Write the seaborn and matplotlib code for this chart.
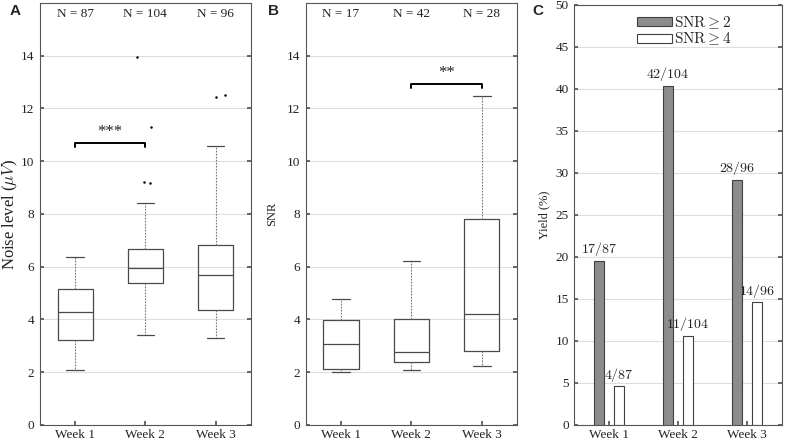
import numpy as np
import pandas as pd
import matplotlib
matplotlib.use("Agg")
import matplotlib.pyplot as plt
import seaborn as sns

# ===============================
# data
# ===============================
weeks = ["Week 1", "Week 2", "Week 3"]

# panel A: noise level (uV) box stats
noise_whislo = [2.07, 3.43, 3.31]
noise_q1 = [3.21, 5.40, 4.35]
noise_med = [4.28, 5.96, 5.68]
noise_q3 = [5.17, 6.69, 6.84]
noise_whishi = [6.36, 8.41, 10.59]
noise_n = [87, 104, 96]
noise_out_week = ["Week 2", "Week 2", "Week 2", "Week 2", "Week 3", "Week 3"]
noise_out_val = [13.97, 11.29, 9.22, 9.16, 12.53, 12.43]

# panel B: SNR box stats
snr_whislo = [2.00, 2.08, 2.24]
snr_q1 = [2.14, 2.39, 2.81]
snr_med = [3.06, 2.78, 4.19]
snr_q3 = [3.97, 4.02, 7.80]
snr_whishi = [4.79, 6.21, 12.46]
snr_n = [17, 42, 28]

# panel C: yield (%)
thresholds = [r"$\mathrm{SNR} \geq 2$", r"$\mathrm{SNR} \geq 4$"]
yield_snr2 = [19.5, 40.4, 29.2]
yield_snr4 = [4.6, 10.6, 14.6]
labels_snr2 = ["17/87", "42/104", "28/96"]
labels_snr4 = ["4/87", "11/104", "14/96"]

# ===============================
# style
# ===============================
sns.set_theme(style="white")
plt.rcParams["font.family"] = ["Liberation Serif", "DejaVu Serif"]
plt.rcParams["mathtext.fontset"] = "cm"
plt.rcParams["axes.edgecolor"] = "#555555"
plt.rcParams["axes.linewidth"] = 0.8

dark = "#4a4a4a"
grid_c = "#dedede"


def style_axes(ax, yticks, ymax):
    ax.set_ylim(0, ymax)
    ax.set_yticks(yticks)
    ax.yaxis.grid(True, color=grid_c, lw=0.8)
    ax.set_axisbelow(True)
    ax.tick_params(axis="y", direction="in", length=3, left=True, right=True,
                   labelsize=9.5, colors="#555555", labelcolor="#222222", pad=4)
    ax.tick_params(axis="x", direction="in", length=3, bottom=True,
                   labelsize=9.5, colors="#555555", labelcolor="#222222", pad=3)
    for s in ax.spines.values():
        s.set_visible(True)
        s.set_color("#555555")


def box_panel(ax, lo, q1, med, q3, hi, n):
    stats = []
    for i in range(len(weeks)):
        stats.append(dict(whislo=lo[i], q1=q1[i], med=med[i], q3=q3[i],
                          whishi=hi[i], fliers=[]))
    ax.bxp(stats, positions=range(len(weeks)), widths=0.5, capwidths=0.25,
           showfliers=False,
           boxprops=dict(color=dark, lw=0.9),
           medianprops=dict(color=dark, lw=0.9),
           whiskerprops=dict(color="#777777", lw=0.8, linestyle=(0, (1.5, 1.2))),
           capprops=dict(color=dark, lw=0.9))
    ax.set_xlim(-0.5, len(weeks) - 0.5)
    ax.set_xticks(range(len(weeks)))
    ax.set_xticklabels(weeks)
    for i, v in enumerate(n):
        ax.text(i, 15.6, f"N = {v}", ha="center", va="center",
                fontsize=9.5, color="#222222")


def bracket(ax, x0, x1, y, stars):
    ax.plot([x0, x0, x1, x1], [y - 0.15, y, y, y - 0.15], color="black", lw=1.4)
    ax.text((x0 + x1) / 2, y + 0.12, stars, ha="center", va="bottom",
            fontsize=12, color="#222222")


fig = plt.figure(figsize=(7.87, 4.42), dpi=100)
axA = fig.add_axes([0.0508, 0.0385, 0.2678, 0.9547])
axB = fig.add_axes([0.3884, 0.0385, 0.2686, 0.9547])
axC = fig.add_axes([0.7297, 0.0385, 0.2636, 0.9502])

# ===============================
# A: noise level
# ===============================
box_panel(axA, noise_whislo, noise_q1, noise_med, noise_q3, noise_whishi, noise_n)
np.random.seed(7)
out_df = pd.DataFrame({"week": noise_out_week, "val": noise_out_val})
sns.stripplot(data=out_df, x="week", y="val", order=weeks, ax=axA,
              color="black", size=1.8, jitter=0.14, linewidth=0)
axA.set_xlim(-0.5, 2.5)
style_axes(axA, np.arange(0, 15, 2), 16)
axA.set_xlabel("")
axA.set_ylabel(r"Noise level ($\mu V$)", fontsize=12, color="#222222", labelpad=1)
bracket(axA, 0, 1, 10.68, "***")

# ===============================
# B: SNR
# ===============================
box_panel(axB, snr_whislo, snr_q1, snr_med, snr_q3, snr_whishi, snr_n)
style_axes(axB, np.arange(0, 15, 2), 16)
axB.set_ylabel("SNR", fontsize=9, color="#222222", labelpad=6)
bracket(axB, 1, 2, 12.94, "**")

# ===============================
# C: yield
# ===============================
yield_df = pd.DataFrame({
    "week": weeks * 2,
    "thr": [thresholds[0]] * 3 + [thresholds[1]] * 3,
    "yield": yield_snr2 + yield_snr4,
})
sns.barplot(data=yield_df, x="week", y="yield", hue="thr", order=weeks,
            hue_order=thresholds, palette=["#8c8c8c", "white"],
            edgecolor="#404040", linewidth=0.8, width=0.57, gap=0.5,
            saturation=1, ax=axC)
axC.bar_label(axC.containers[0], labels=[f"${s}$" for s in labels_snr2],
              padding=2, fontsize=10, color="#222222")
axC.bar_label(axC.containers[1], labels=[f"${s}$" for s in labels_snr4],
              padding=2, fontsize=10, color="#222222")
style_axes(axC, np.arange(0, 51, 5), 50)
axC.set_xlim(-0.5, 2.5)
axC.set_xlabel("")
axC.set_ylabel("Yield (%)", fontsize=9, color="#222222", labelpad=4)
sns.move_legend(axC, "upper center", bbox_to_anchor=(0.53, 1.0), title=None,
                frameon=False, fontsize=11, handlelength=2.3, handleheight=0.55,
                handletextpad=0.1, labelspacing=0.0, borderaxespad=0.2)

# panel letters
for x, t in [(0.012, "A"), (0.341, "B"), (0.677, "C")]:
    fig.text(x, 0.99, t, fontsize=11, fontweight="bold", va="top",
             family=["Liberation Sans", "DejaVu Sans"])

fig.savefig("out.png", dpi=100)
plt.close()
